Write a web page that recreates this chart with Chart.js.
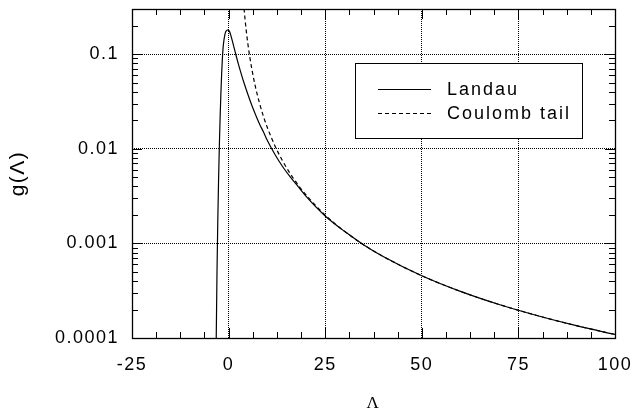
<!DOCTYPE html>
<html>
<head>
<meta charset="utf-8">
<script src="https://cdn.jsdelivr.net/npm/chart.js@4/dist/chart.umd.min.js"></script>
<style>
  html, body { margin: 0; padding: 0; background: #fff; }
  canvas { display: block; }
</style>
</head>
<body>
<canvas id="grafico" width="632" height="414"></canvas>
<script>
const fuente = "'Liberation Sans', Arial, Helvetica, sans-serif";

// Landau g(Λ)
const landauX = [-3.4, -3.2, -3.0, -2.8, -2.6, -2.4, -2.2, -2.0, -1.8, -1.6, -1.4, -1.2, -1.0, -0.8, -0.6, -0.4, -0.2, 0.0,
                 0.25, 0.5, 1.0, 1.5, 2.0, 2.5, 3.0, 3.5, 4.0, 5.0, 6.0, 7.0, 8.0, 9.0, 10, 12, 14, 16, 18, 20, 25,
                 30, 35, 40, 50, 60, 70, 80, 90, 100];
const landauY = [0.000015, 0.0001, 0.0005, 0.0017, 0.0046, 0.0105, 0.021, 0.038, 0.062, 0.091, 0.120, 0.141, 0.158, 0.170, 0.176, 0.179, 0.180, 0.178,
                 0.173, 0.162, 0.1365, 0.1135, 0.0944, 0.0794, 0.0673, 0.0575, 0.0495, 0.0374, 0.0288, 0.0228, 0.0183, 0.0151, 0.0123, 0.0087, 0.00646, 0.00501, 0.00398, 0.00316, 0.00195,
                 0.00134, 0.000964, 0.000727, 0.000455, 0.000311, 0.000226, 0.000172, 0.000135, 0.000109];

// cola de Coulomb
const colaX = [3.7, 3.85, 4.0, 4.25, 4.5, 5.0, 5.5, 6.0, 7.0, 8.0, 9.0, 10, 12, 14, 16, 18, 20, 25, 30, 35, 40, 50, 60, 70, 80, 90, 100];
const colaY = [0.427, 0.35, 0.302, 0.235, 0.187, 0.1276, 0.0924, 0.070, 0.0441, 0.0304, 0.0221, 0.01687, 0.01072, 0.0074, 0.00542, 0.00414, 0.003265, 0.00199,
               0.00134, 0.000964, 0.000727, 0.000455, 0.000311, 0.000226, 0.000172, 0.000135, 0.000109];

const xTicks = [-25, 0, 25, 50, 75, 100];
const yTicks = [0.0001, 0.001, 0.01, 0.1];
const yTickLabels = ['0.0001', '0.001', '0.01', '0.1'];

const series = [
    { label: 'Landau', xs: landauX, ys: landauY, dash: [] },
    { label: 'Coulomb tail', xs: colaX, ys: colaY, dash: [4, 3] }
];

const toPoints = (xs, ys) => xs.map((x, i) => ({ x, y: ys[i] }));

// texto algo más espaciado, como en la figura original
const espaciado = {
    id: 'espaciado',
    beforeInit(chart) { chart.ctx.letterSpacing = '1.5px'; },
    beforeDraw(chart) { chart.ctx.letterSpacing = '1.5px'; }
};

// sin relleno extra por las etiquetas de los extremos
const sinRelleno = s => {
    s.paddingTop = 0; s.paddingBottom = 0;
    s.paddingLeft = 0; s.paddingRight = 0;
};

// marco, marcas hacia adentro y leyenda
const marcoPlugin = {
    id: 'marco',
    afterDraw(chart) {
        const { ctx, chartArea: a, scales: { x, y } } = chart;
        ctx.save();
        ctx.strokeStyle = '#000';
        ctx.lineWidth = 1;

        ctx.beginPath();
        for (let v = -25 + 6.25; v < 100; v += 6.25) {
            const px = Math.round(x.getPixelForValue(v)) + 0.5;
            const len = (v % 25 === 0) ? 10 : 6;
            ctx.moveTo(px, a.bottom); ctx.lineTo(px, a.bottom - len);
            ctx.moveTo(px, a.top); ctx.lineTo(px, a.top + len);
        }
        for (let dec = 0.0001; dec < 1; dec *= 10) {
            for (let k = 1; k <= 9; k++) {
                const v = dec * k;
                if (v <= y.min * 1.0001 || v >= y.max * 0.9999) continue;
                const py = Math.round(y.getPixelForValue(v)) + 0.5;
                const len = k === 1 ? 10 : 6;
                ctx.moveTo(a.left, py); ctx.lineTo(a.left + len, py);
                ctx.moveTo(a.right, py); ctx.lineTo(a.right - len, py);
            }
        }
        ctx.stroke();

        ctx.lineWidth = 1.3;
        ctx.strokeRect(Math.round(a.left) + 0.5, Math.round(a.top) + 0.5,
            Math.round(a.right - a.left), Math.round(a.bottom - a.top));

        // leyenda
        const bx = 355.5, by = 63.5, bw = 227, bh = 75;
        ctx.fillStyle = '#fff';
        ctx.fillRect(bx, by, bw, bh);
        ctx.lineWidth = 1;
        ctx.strokeRect(bx, by, bw, bh);

        ctx.font = '18px ' + fuente;
        ctx.letterSpacing = '2px';
        ctx.fillStyle = '#000';
        ctx.textAlign = 'left';
        ctx.textBaseline = 'alphabetic';
        series.forEach((s, i) => {
            const ly = 89.5 + i * 24;
            ctx.setLineDash(s.dash);
            ctx.lineWidth = 1.2;
            ctx.beginPath();
            ctx.moveTo(378, ly); ctx.lineTo(431, ly);
            ctx.stroke();
            ctx.setLineDash([]);
            ctx.fillText(s.label, 447, ly + 5.5);
        });
        ctx.restore();
    }
};

new Chart(document.getElementById('grafico'), {
    type: 'line',
    data: {
        datasets: series.map(s => ({
            label: s.label,
            data: toPoints(s.xs, s.ys),
            borderColor: '#000',
            borderWidth: 1.2,
            borderDash: s.dash,
            pointRadius: 0,
            fill: false,
            cubicInterpolationMode: 'monotone'
        }))
    },
    options: {
        responsive: false,
        animation: false,
        layout: { autoPadding: false, padding: { top: 9, right: 17, left: 0, bottom: 0 } },
        plugins: { legend: { display: false }, tooltip: { enabled: false } },
        scales: {
            x: {
                type: 'linear',
                min: -25,
                max: 100,
                afterBuildTicks: s => { s.ticks = xTicks.map(v => ({ value: v })); },
                afterFit: s => { s.height = 76; sinRelleno(s); },
                grid: { color: '#000', lineWidth: 1, drawTicks: false },
                border: { display: false, dash: [1, 1] },
                ticks: { color: '#000', font: { family: fuente, size: 18 }, padding: 16, maxRotation: 0, autoSkip: false },
                title: { display: true, text: 'Λ', color: '#000', font: { family: "'Liberation Serif', 'Times New Roman', serif", size: 17 }, padding: 0 }
            },
            y: {
                type: 'logarithmic',
                min: 0.0001,
                max: 0.3,
                afterBuildTicks: s => { s.ticks = yTicks.map(v => ({ value: v })); },
                afterFit: s => { s.width = 132; sinRelleno(s); },
                grid: { color: '#000', lineWidth: 1, drawTicks: false },
                border: { display: false, dash: [1, 1] },
                ticks: { color: '#000', font: { family: fuente, size: 18 }, padding: 13, autoSkip: false,
                         callback: (v, i) => yTickLabels[i] },
                title: { display: true, text: 'g(Λ)', color: '#000', font: { family: fuente, size: 21 }, padding: { top: 6 } }
            }
        }
    },
    plugins: [espaciado, marcoPlugin]
});
</script>
</body>
</html>
